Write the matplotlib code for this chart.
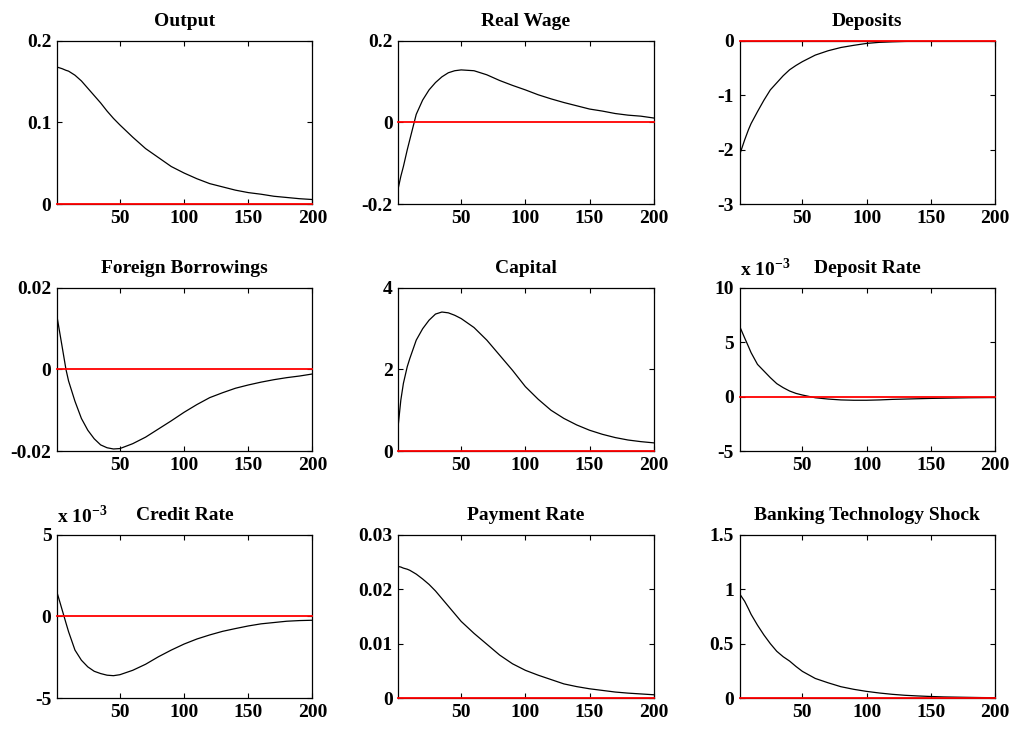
import matplotlib
matplotlib.use("Agg")
import matplotlib.pyplot as plt

plt.rcParams['font.family'] = ['Liberation Serif', 'DejaVu Serif']
plt.rcParams['font.weight'] = 'bold'
plt.rcParams['axes.unicode_minus'] = False
plt.rcParams['mathtext.fontset'] = 'custom'
plt.rcParams['mathtext.rm'] = 'Liberation Serif:bold'
plt.rcParams['mathtext.bf'] = 'Liberation Serif:bold'

# impulse responses at these periods
periods = [1, 3, 5, 8, 10, 15, 20, 25, 30, 35, 40, 45, 50,
           60, 70, 80, 90, 100, 110, 120, 130, 140, 150, 160, 170, 180, 190, 200]

output = [0.168, 0.167, 0.166, 0.164, 0.163, 0.158, 0.151, 0.142, 0.133, 0.124, 0.114, 0.105, 0.097,
          0.082, 0.068, 0.057, 0.046, 0.038, 0.031, 0.025, 0.021, 0.017, 0.014, 0.012, 0.0095, 0.008, 0.0065, 0.0055]
real_wage = [-0.161, -0.132, -0.108, -0.067, -0.042, 0.02, 0.055, 0.08, 0.098, 0.112, 0.122, 0.127, 0.129,
             0.127, 0.117, 0.103, 0.091, 0.08, 0.068, 0.058, 0.049, 0.041, 0.033, 0.028, 0.022, 0.018, 0.0155, 0.011]
deposits = [-2.1, -1.96, -1.82, -1.63, -1.52, -1.3, -1.09, -0.9, -0.77, -0.64, -0.53, -0.45, -0.38,
            -0.26, -0.18, -0.12, -0.08, -0.045, -0.025, -0.015, -0.008, -0.005, -0.003, -0.002, -0.001, -0.001, 0.0, 0.0]
foreign_borrowings = [0.013, 0.0093, 0.0056, 0.0, -0.0028, -0.0078, -0.012, -0.0149, -0.017, -0.0185, -0.0192, -0.0195, -0.0194,
                      -0.0182, -0.0166, -0.0146, -0.0126, -0.0105, -0.0086, -0.0069, -0.0057, -0.0046, -0.0038, -0.0031,
                      -0.0025, -0.002, -0.0016, -0.0011]
capital = [0.64, 1.25, 1.66, 2.07, 2.27, 2.72, 3.0, 3.21, 3.36, 3.41, 3.39, 3.33, 3.25,
           3.03, 2.72, 2.35, 1.98, 1.58, 1.27, 1.0, 0.8, 0.64, 0.51, 0.41, 0.33, 0.27, 0.23, 0.2]
# the two rates are in units of 10^-3
deposit_rate = [6.5, 5.95, 5.4, 4.6, 4.05, 2.97, 2.36, 1.75, 1.2, 0.83, 0.52, 0.3, 0.15,
                -0.1, -0.22, -0.3, -0.33, -0.33, -0.3, -0.25, -0.22, -0.19, -0.16, -0.14, -0.12, -0.1, -0.09, -0.08]
credit_rate = [1.48, 0.95, 0.41, -0.4, -0.93, -2.06, -2.68, -3.09, -3.36, -3.5, -3.6, -3.63, -3.57,
               -3.3, -2.93, -2.47, -2.06, -1.69, -1.38, -1.13, -0.91, -0.74, -0.58, -0.45, -0.37, -0.29, -0.25, -0.23]
payment_rate = [0.0242, 0.0241, 0.0239, 0.0237, 0.0235, 0.0228, 0.0219, 0.0209, 0.0197, 0.0183, 0.0169, 0.0155, 0.0141,
                0.0119, 0.0099, 0.0079, 0.0063, 0.0051, 0.0042, 0.0034, 0.0026, 0.0021, 0.0017, 0.0014, 0.0011,
                0.0009, 0.00075, 0.0006]
bank_shock = [0.96, 0.925, 0.89, 0.82, 0.77, 0.67, 0.58, 0.5, 0.43, 0.38, 0.34, 0.29, 0.245,
              0.18, 0.14, 0.104, 0.08, 0.061, 0.046, 0.034, 0.025, 0.019, 0.014, 0.01, 0.008, 0.006, 0.004, 0.003]

titles = ['Output', 'Real Wage', 'Deposits',
          'Foreign Borrowings', 'Capital', 'Deposit Rate',
          'Credit Rate', 'Payment Rate', 'Banking Technology Shock']
series = [output, real_wage, deposits,
          foreign_borrowings, capital, deposit_rate,
          credit_rate, payment_rate, bank_shock]
y_ticks = [[0, 0.1, 0.2], [-0.2, 0, 0.2], [-3, -2, -1, 0],
           [-0.02, 0, 0.02], [0, 2, 4], [-5, 0, 5, 10],
           [-5, 0, 5], [0, 0.01, 0.02, 0.03], [0, 0.5, 1, 1.5]]
y_labels = [['0', '0.1', '0.2'], ['-0.2', '0', '0.2'], ['-3', '-2', '-1', '0'],
            ['-0.02', '0', '0.02'], ['0', '2', '4'], ['-5', '0', '5', '10'],
            ['-5', '0', '5'], ['0', '0.01', '0.02', '0.03'], ['0', '0.5', '1', '1.5']]
scaled = ['Deposit Rate', 'Credit Rate']
x_ticks = [50, 100, 150, 200]

fig, axes = plt.subplots(3, 3, figsize=(10.16, 7.29), dpi=100)
fig.subplots_adjust(left=0.0561, right=0.9793, top=0.9438, bottom=0.0425,
                    wspace=0.336, hspace=0.515)

for ax, title, values, yt, yl in zip(axes.flat, titles, series, y_ticks, y_labels):
    ax.plot(periods, values, color='black', linewidth=0.9, zorder=2)
    # zero line goes over the frame when it sits on the axis limit
    ax.axhline(0, color='#ff0000', linewidth=1.3, zorder=3, clip_on=False)
    ax.set_xlim(periods[0], periods[-1])
    ax.set_ylim(yt[0], yt[-1])
    ax.set_xticks(x_ticks)
    ax.set_xticklabels([str(t) for t in x_ticks])
    ax.set_yticks(yt)
    ax.set_yticklabels(yl)
    ax.tick_params(direction='in', top=True, right=True, length=3.5, width=0.8,
                   labelsize=14, pad=4)
    for s in ax.spines.values():
        s.set_linewidth(0.9)
    ax.set_title(title, fontsize=14, fontweight='bold', pad=11)
    if title in scaled:
        ax.text(0.0, 1.05, r'x 10$^{-3}$', transform=ax.transAxes,
                fontsize=14, fontweight='bold', ha='left', va='bottom')

fig.savefig('out.png', dpi=100)
